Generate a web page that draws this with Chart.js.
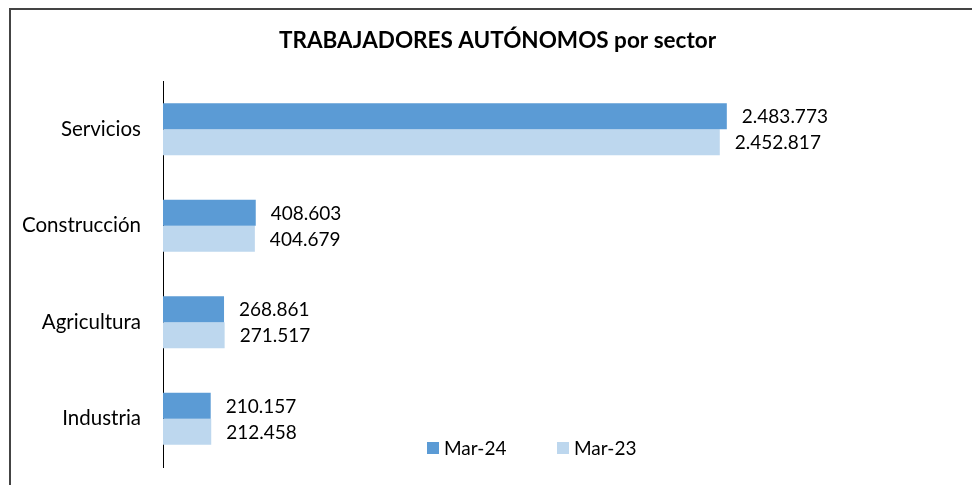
<!DOCTYPE html>
<html><head><meta charset="utf-8">
<script src="https://cdn.jsdelivr.net/npm/chart.js@4.4.1/dist/chart.umd.min.js"></script>
<style>
html,body{margin:0;padding:0;background:#fff;overflow:hidden;}
#wrap{position:relative;width:972px;height:485px;}
#frame{position:absolute;left:9px;top:8px;width:1100px;height:1100px;border:2px solid #444;box-sizing:border-box;pointer-events:none;}
canvas{position:absolute;left:0;top:0}
</style></head><body>
<div id="wrap"><canvas id="c" width="972" height="485"></canvas><div id="frame"></div></div>
<script>
const categories = ['Servicios', 'Construcción', 'Agricultura', 'Industria'];
const seriesNames = ['Mar-24', 'Mar-23'];
const mar24 = [2483773, 408603, 268861, 210157];
const mar23 = [2452817, 404679, 271517, 212458];
const seriesColors = ['#5B9BD5', '#BDD7EE'];
const chartTitle = 'TRABAJADORES AUTÓNOMOS por sector';
const axisMax = 3000000;

const FONT = 'Lato';
function fmt(v){ return String(v).replace(/\B(?=(\d{3})+(?!\d))/g, '.'); }

const decor = {
  id: 'decor',
  afterDatasetsDraw(chart){
    const ctx = chart.ctx;
    ctx.save();
    ctx.fillStyle = '#000';
    ctx.textBaseline = 'middle';
    ctx.textAlign = 'left';
    ctx.font = '19px ' + FONT;
    chart.data.datasets.forEach((ds, di) => {
      const meta = chart.getDatasetMeta(di);
      meta.data.forEach((bar, i) => {
        ctx.fillText(fmt(ds.data[i]), bar.x + 15, bar.y + 1);
      });
    });
    // title
    ctx.font = 'bold 22.5px ' + FONT;
    ctx.textAlign = 'center';
    ctx.fillText(chartTitle, 497.5, 41);
    // legend
    const legX = [427, 557];
    ctx.textAlign = 'left';
    ctx.font = '19px ' + FONT;
    chart.data.datasets.forEach((ds, di) => {
      ctx.fillStyle = ds.backgroundColor;
      ctx.fillRect(legX[di], 442, 12, 12);
      ctx.fillStyle = '#000';
      ctx.fillText(ds.label, legX[di] + 17, 449);
    });
    ctx.restore();
  }
};

function draw(){
  new Chart(document.getElementById('c'), {
    type: 'bar',
    data: {
      labels: categories,
      datasets: [
        { label: seriesNames[0], data: mar24, backgroundColor: seriesColors[0], borderWidth: 0 },
        { label: seriesNames[1], data: mar23, backgroundColor: seriesColors[1], borderWidth: 0 }
      ]
    },
    options: {
      indexAxis: 'y',
      responsive: false,
      animation: false,
      devicePixelRatio: 1,
      categoryPercentage: 0.539,
      barPercentage: 1,
      layout: { padding: { top: 81, bottom: 18, left: 0, right: 128 } },
      plugins: { legend: { display: false }, title: { display: false }, tooltip: { enabled: false } },
      scales: {
        x: { type: 'linear', min: 0, max: axisMax, display: false },
        y: {
          grid: { display: false, drawTicks: false },
          border: { display: true, color: '#000', width: 1 },
          ticks: { color: '#000', font: { family: FONT, size: 20.5 }, padding: 22 },
          afterFit(scale){ scale.width = 163; scale.paddingTop = 0; scale.paddingBottom = 0; }
        }
      }
    },
    plugins: [decor]
  });
}
document.fonts.load('18px Lato').then(draw, draw);
</script>
</body></html>
